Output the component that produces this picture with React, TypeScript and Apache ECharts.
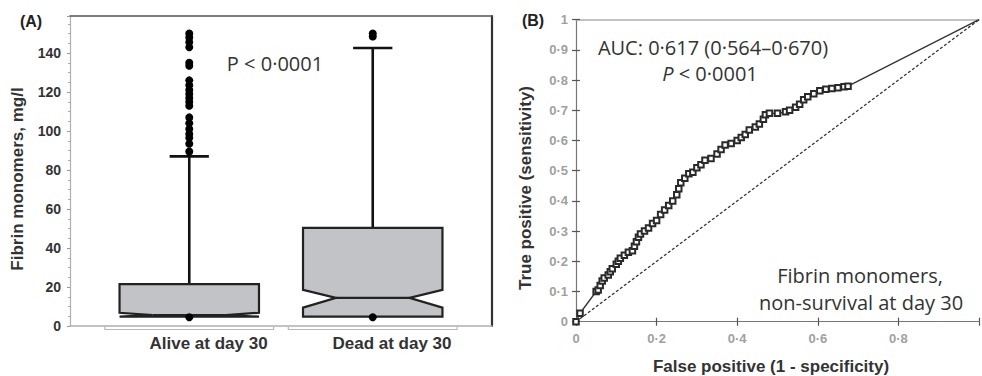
import React, { useEffect, useRef } from "react";
import * as echarts from "echarts";

// ---------- Panel A data ----------
const groupPositions = [1, 2];
const groupLabels = ["Alive at day 30", "Dead at day 30"];
// [x, q1, notchLow, median, notchHigh, q3, whiskerLow, whiskerHigh]
const aliveBox = [1, 4.8, 4.8, 5.6, 6.8, 21.5, 4.8, 87];
const deadBox = [2, 4.8, 9.4, 14.4, 18.5, 50.3, 4.8, 142.6];
const aliveOutliers = [150, 148, 145.5, 143, 135, 133.5, 126, 123.5, 121, 119, 117, 115, 113, 107, 104, 101, 98.5, 96.5, 93.5, 89.5];
const deadOutliers = [150, 148.5];
const minimumDots = [4.5, 4.5];
const yTicksA = [0, 20, 40, 60, 80, 100, 120, 140];

// ---------- Panel B data ----------
const rocFpr = [0, 0.01, 0.05, 0.055, 0.06, 0.065, 0.07, 0.08, 0.085, 0.09, 0.1, 0.105, 0.11, 0.12, 0.13, 0.14, 0.145, 0.15, 0.155, 0.16, 0.17, 0.18, 0.19, 0.2, 0.21, 0.22, 0.23, 0.24, 0.25, 0.255, 0.26, 0.27, 0.28, 0.29, 0.3, 0.31, 0.32, 0.335, 0.35, 0.36, 0.37, 0.385, 0.4, 0.41, 0.42, 0.43, 0.445, 0.455, 0.465, 0.47, 0.48, 0.5, 0.52, 0.53, 0.545, 0.555, 0.565, 0.575, 0.59, 0.605, 0.62, 0.635, 0.65, 0.665, 0.675, 1];
const rocTpr = [0, 0.028, 0.1, 0.105, 0.12, 0.135, 0.145, 0.155, 0.165, 0.175, 0.19, 0.2, 0.21, 0.22, 0.23, 0.235, 0.25, 0.265, 0.28, 0.29, 0.3, 0.31, 0.325, 0.335, 0.355, 0.37, 0.385, 0.4, 0.42, 0.44, 0.46, 0.475, 0.49, 0.495, 0.51, 0.52, 0.535, 0.54, 0.555, 0.57, 0.585, 0.59, 0.6, 0.61, 0.62, 0.635, 0.645, 0.655, 0.67, 0.685, 0.69, 0.69, 0.695, 0.7, 0.71, 0.72, 0.735, 0.745, 0.755, 0.765, 0.77, 0.772, 0.775, 0.778, 0.78, 1];
const chanceLine = [[0, 0], [1, 1]];

const SANS = "'Liberation Sans', Arial, sans-serif";
const OPEN = "'Open Sans', 'Noto Sans', sans-serif";

const fmtDot = (v: number) => {
  if (v === 0) return "0";
  if (Math.abs(v - 1) < 1e-9) return "1";
  return v.toFixed(1).replace(".", "·");
};

export default function App() {
  const ref = useRef<HTMLDivElement>(null);
  useEffect(() => {
    document.body.style.margin = "0";
    if (!ref.current) return;
    const chart = echarts.init(ref.current, null, { renderer: "svg" });

    const boxRender = (params: any, api: any) => {
      const x = api.value(0);
      const c = (v: number) => api.coord([x, v]);
      const cx = c(api.value(1))[0];
      const yq1 = c(api.value(1))[1];
      const ynlo = c(api.value(2))[1];
      const ymed = c(api.value(3))[1];
      const ynhi = c(api.value(4))[1];
      const yq3 = c(api.value(5))[1];
      const ywhi = c(api.value(7))[1];
      const hw = api.size([0.38, 0])[0];
      const ind = api.size([0.18, 0])[0];
      const cap = api.size([0.107, 0])[0];
      const L = cx - hw;
      const R = cx + hw;
      return {
        type: "group",
        children: [
          { type: "line", shape: { x1: cx, y1: ywhi, x2: cx, y2: yq3 }, style: { stroke: "#111", lineWidth: 2.6 } },
          { type: "line", shape: { x1: cx - cap, y1: ywhi, x2: cx + cap, y2: ywhi }, style: { stroke: "#111", lineWidth: 2.6 } },
          {
            type: "polygon",
            shape: {
              points: [
                [L, yq3], [R, yq3], [R, ynhi], [R - ind, ymed], [R, ynlo], [R, yq1],
                [L, yq1], [L, ynlo], [L + ind, ymed], [L, ynhi],
              ],
            },
            style: { fill: "#c2c3c6", stroke: "#222", lineWidth: 2.2 },
          },
          { type: "line", shape: { x1: L + ind, y1: ymed, x2: R - ind, y2: ymed }, style: { stroke: "#222", lineWidth: 2.2 } },
        ],
      };
    };

    const bracketRender = (params: any, api: any) => {
      const x = api.value(0);
      const p1 = api.coord([x - 0.46, 0]);
      const p2 = api.coord([x + 0.46, 0]);
      return {
        type: "polyline",
        shape: { points: [[p1[0], p1[1] + 0.5], [p1[0], p1[1] + 3.5], [p2[0], p2[1] + 3.5], [p2[0], p2[1] + 0.5]] },
        style: { stroke: "#b8b8b8", lineWidth: 1.2, fill: null },
      };
    };

    const rocData = rocFpr.map((x, i) => ({
      value: [x, rocTpr[i]],
      symbol: i === rocFpr.length - 1 ? "none" : "emptyRect",
    }));

    const txt = (text: string, x: number, y: number, extra: any = {}) => ({
      type: "text",
      x,
      y,
      style: { text, textAlign: "center", textVerticalAlign: "middle", fill: "#333", font: `20px ${OPEN}`, ...extra },
    });

    chart.setOption({
      animation: false,
      grid: [
        { left: 70, top: 16, width: 422, height: 310 },
        { left: 576, top: 19.7, width: 411.5, height: 302 },
      ],
      xAxis: [
        {
          gridIndex: 0, type: "value", min: 0.35, max: 2.65, position: "bottom",
          axisLine: { show: true, onZero: false, lineStyle: { color: "#b0b0b0", width: 1.5 } },
          axisTick: { show: false }, splitLine: { show: false },
          axisLabel: {
            customValues: groupPositions.map((p) => p + 0.105),
            formatter: (v: number) => groupLabels[Math.round(v) - 1] ?? "",
            margin: 9, color: "#333", fontFamily: SANS, fontWeight: "bold", fontSize: 17,
          },
        },
        {
          gridIndex: 0, type: "value", min: 0.35, max: 2.65, position: "top",
          axisLine: { show: true, onZero: false, lineStyle: { color: "#555", width: 1.5 } },
          axisTick: { show: false }, axisLabel: { show: false }, splitLine: { show: false },
        },
        {
          gridIndex: 1, type: "value", min: 0, max: 1, interval: 0.2, position: "bottom",
          axisLine: { show: true, onZero: false, lineStyle: { color: "#777", width: 1.2 } },
          axisTick: { show: true, length: 4, lineStyle: { color: "#555", width: 1.2 } },
          splitLine: { show: false },
          axisLabel: {
            margin: 10, color: "#a0a0a0", fontFamily: SANS, fontWeight: "bold", fontSize: 13,
            formatter: (v: number) => (Math.abs(v - 1) < 1e-9 ? "" : fmtDot(v)),
          },
        },
        {
          gridIndex: 1, type: "value", min: 0, max: 1, interval: 0.2, position: "bottom",
          axisLine: { show: false, onZero: false },
          axisTick: { show: true, inside: true, length: 4, lineStyle: { color: "#555", width: 1.2 } },
          axisLabel: { show: false }, splitLine: { show: false },
        },
        {
          gridIndex: 1, type: "value", min: 0, max: 1, position: "top",
          axisLine: { show: true, onZero: false, lineStyle: { color: "#b0b0b0", width: 1.5 } },
          axisTick: { show: false }, axisLabel: { show: false }, splitLine: { show: false },
        },
      ],
      yAxis: [
        {
          gridIndex: 0, type: "value", min: 0, max: 159, interval: 20, position: "left",
          axisLine: { show: true, onZero: false, lineStyle: { color: "#b0b0b0", width: 1.2 } },
          axisTick: { show: true, length: 3, lineStyle: { color: "#999" } },
          minorTick: { show: true, splitNumber: 4, length: 2, lineStyle: { color: "#aaa" } },
          splitLine: { show: false },
          axisLabel: {
            margin: 9, color: "#333", fontFamily: SANS, fontWeight: "bold", fontSize: 14,
            formatter: (v: number) => (yTicksA.includes(v) ? String(v) : ""),
          },
        },
        {
          gridIndex: 0, type: "value", min: 0, max: 159, position: "right",
          axisLine: { show: true, onZero: false, lineStyle: { color: "#333", width: 2.2 } },
          axisTick: { show: false }, axisLabel: { show: false }, splitLine: { show: false },
        },
        {
          gridIndex: 1, type: "value", min: 0, max: 1, interval: 0.1, position: "left",
          axisLine: { show: true, onZero: false, lineStyle: { color: "#777", width: 1.2 } },
          axisTick: { show: true, length: 4, lineStyle: { color: "#555", width: 1.2 } },
          splitLine: { show: false },
          axisLabel: { margin: 8, color: "#a0a0a0", fontFamily: SANS, fontWeight: "bold", fontSize: 13, formatter: fmtDot },
        },
        {
          gridIndex: 1, type: "value", min: 0, max: 1, interval: 0.1, position: "left",
          axisLine: { show: false, onZero: false },
          axisTick: { show: true, inside: true, length: 4, lineStyle: { color: "#555", width: 1.2 } },
          axisLabel: { show: false }, splitLine: { show: false },
        },
      ],
      series: [
        {
          type: "custom", xAxisIndex: 0, yAxisIndex: 0, renderItem: bracketRender, clip: false,
          data: groupPositions.map((p) => [p]), encode: { x: 0, y: 0 }, silent: true,
        },
        {
          type: "custom", xAxisIndex: 0, yAxisIndex: 0, renderItem: boxRender,
          data: [aliveBox, deadBox], encode: { x: 0, y: [1, 2, 3, 4, 5, 6, 7] }, z: 3,
        },
        {
          type: "scatter", xAxisIndex: 0, yAxisIndex: 0, symbol: "circle", symbolSize: 8,
          itemStyle: { color: "#000", opacity: 1 }, z: 4,
          data: [
            ...aliveOutliers.map((v) => [groupPositions[0], v]),
            ...deadOutliers.map((v) => [groupPositions[1], v]),
            ...minimumDots.map((v, i) => [groupPositions[i], v]),
          ],
        },
        {
          type: "line", xAxisIndex: 2, yAxisIndex: 2, data: chanceLine, symbol: "none",
          lineStyle: { color: "#333", width: 1.3, type: [3, 2] }, clip: false,
        },
        {
          type: "line", xAxisIndex: 2, yAxisIndex: 2, data: rocData, symbolSize: 5.5,
          itemStyle: { color: "#2a2a2a", borderWidth: 1.2 }, lineStyle: { color: "#333", width: 1.3 }, clip: false, z: 4,
        },
      ],
      graphic: [
        txt("(A)", 31, 21, { font: `bold 16px ${SANS}`, fill: "#222" }),
        txt("(B)", 533, 20, { font: `bold 16px ${SANS}`, fill: "#222" }),
        { ...txt("Fibrin monomers, mg/l", 17, 179, { font: `bold 17px ${SANS}`, fill: "#333" }), rotation: Math.PI / 2 },
        { ...txt("True positive (sensitivity)", 525, 188, { font: `bold 17px ${SANS}`, fill: "#333" }), rotation: Math.PI / 2 },
        txt("False positive (1 - specificity)", 771, 366, { font: `bold 17px ${SANS}`, fill: "#333" }),
        txt("P < 0·0001", 275, 63),
        txt("AUC: 0·617 (0·564–0·670)", 713, 47),
        {
          type: "text", x: 710, y: 73,
          style: {
            text: "{i|P} < 0·0001", textAlign: "center", textVerticalAlign: "middle",
            font: `20px ${OPEN}`, fill: "#333",
            rich: { i: { fontStyle: "italic", fontFamily: OPEN, fontSize: 20, fill: "#333" } },
          },
        },
        txt("Fibrin monomers,", 860, 275),
        txt("non-survival at day 30", 861, 302),
      ],
    });
    return () => chart.dispose();
  }, []);
  return <div ref={ref} style={{ width: 982, height: 376 }} />;
}
